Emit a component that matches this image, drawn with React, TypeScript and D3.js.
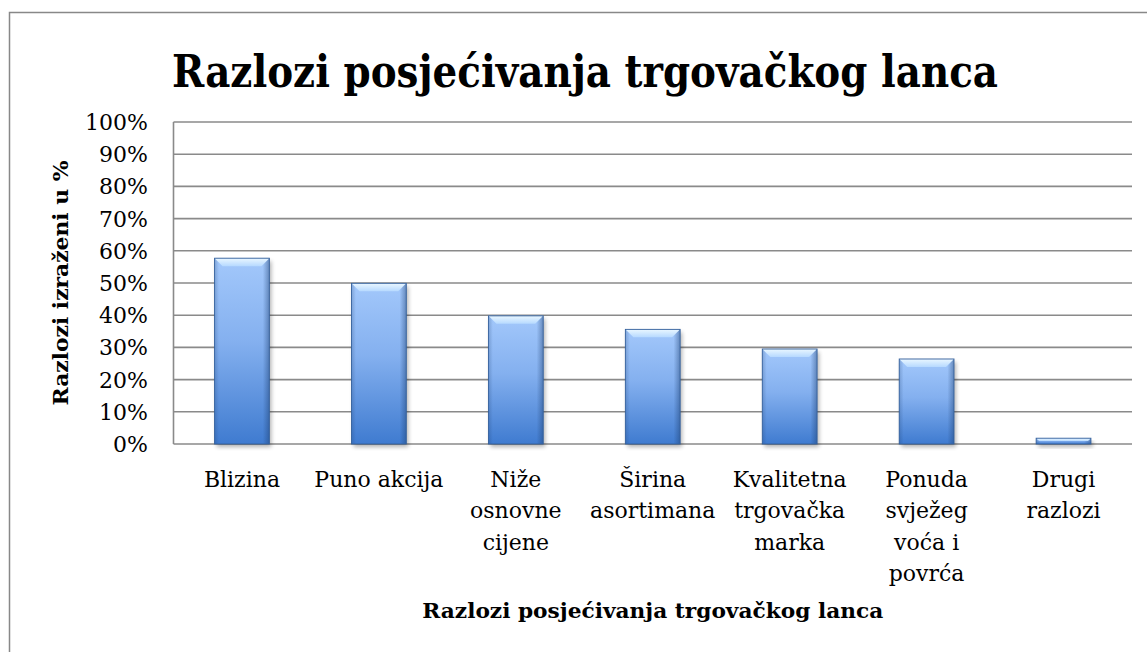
import React from 'react';
import * as d3 from 'd3';

// data
const categories = [
  ['Blizina'],
  ['Puno akcija'],
  ['Niže', 'osnovne', 'cijene'],
  ['Širina', 'asortimana'],
  ['Kvalitetna', 'trgovačka', 'marka'],
  ['Ponuda', 'svježeg', 'voća i', 'povrća'],
  ['Drugi', 'razlozi'],
];
const values = [57.7, 49.9, 39.8, 35.6, 29.5, 26.4, 1.8];
const yTicks = [0, 10, 20, 30, 40, 50, 60, 70, 80, 90, 100];

const title = 'Razlozi posjećivanja trgovačkog lanca';
const xTitle = 'Razlozi posjećivanja trgovačkog lanca';
const yTitle = 'Razlozi izraženi u %';

const W = 1147;
const H = 652;
const plot = { left: 173.5, right: 1132, top: 122, bottom: 444 };
const font = '"DejaVu Serif", "Liberation Serif", serif';
const grid = '#8a8a8a';

function App() {
  const x = d3.scaleBand<number>()
    .domain(d3.range(values.length))
    .range([plot.left, plot.right])
    .paddingInner(0.6)
    .paddingOuter(0.3);
  const y = d3.scaleLinear().domain([0, 100]).range([plot.bottom, plot.top]);
  const bw = x.bandwidth();

  return (
    <svg width={W} height={H} style={{ position: 'absolute', left: 0, top: 0, background: '#fff' }}>
      <defs>
        <linearGradient id="body" x1="0" y1="0" x2="0" y2="1">
          <stop offset="0%" stopColor="#a3c8fb" />
          <stop offset="45%" stopColor="#84b0ef" />
          <stop offset="100%" stopColor="#3f7bd0" />
        </linearGradient>
        <linearGradient id="edge" x1="0" y1="0" x2="1" y2="0">
          <stop offset="0%" stopColor="#1d3f70" stopOpacity={0.25} />
          <stop offset="8%" stopColor="#1d3f70" stopOpacity={0} />
          <stop offset="88%" stopColor="#1d3f70" stopOpacity={0} />
          <stop offset="100%" stopColor="#1d3f70" stopOpacity={0.45} />
        </linearGradient>
        <linearGradient id="bevel" x1="0" y1="0" x2="0" y2="1">
          <stop offset="0%" stopColor="#eaf7ff" />
          <stop offset="100%" stopColor="#b6d9ff" />
        </linearGradient>
        <filter id="shadow" x="-20%" y="-20%" width="140%" height="140%">
          <feGaussianBlur stdDeviation="2" />
        </filter>
      </defs>

      {/* chart frame (right and bottom lie outside the picture) */}
      <rect x={9.5} y={12.5} width={1200} height={700} fill="#fff" stroke="#888" strokeWidth={1.5} />

      <text x={585} y={87} textAnchor="middle" fontFamily={font} fontWeight="bold" fontSize={44}
        textLength={826} lengthAdjust="spacingAndGlyphs">{title}</text>

      {/* gridlines */}
      {yTicks.map(t => (
        <line key={t} x1={plot.left} x2={plot.right} y1={y(t)} y2={y(t)} stroke={grid} strokeWidth={1.6} />
      ))}
      <line x1={plot.left} x2={plot.left} y1={plot.top} y2={plot.bottom} stroke={grid} strokeWidth={1.6} />

      {/* tick labels */}
      {yTicks.map(t => (
        <text key={t} x={148} y={y(t) + 8} textAnchor="end" fontFamily={font} fontSize={22}>{t}%</text>
      ))}

      {/* bars */}
      {values.map((v, i) => {
        const x0 = x(i)!;
        const y0 = y(v);
        const h = plot.bottom - y0;
        const b = Math.min(8, h / 2);
        return (
          <g key={i}>
            <rect x={x0 + 2} y={y0 + 3} width={bw} height={h} fill="#000" opacity={0.3} filter="url(#shadow)" />
            <rect x={x0} y={y0} width={bw} height={h} fill="url(#body)" />
            <rect x={x0} y={y0} width={bw} height={h} fill="url(#edge)" />
            <polygon
              points={`${x0},${y0} ${x0 + bw},${y0} ${x0 + bw - b},${y0 + b} ${x0 + b},${y0 + b}`}
              fill="url(#bevel)" />
            <rect x={x0} y={y0} width={bw} height={h} fill="none" stroke="#34609c" strokeWidth={0.9} />
          </g>
        );
      })}

      {/* category labels */}
      {categories.map((lines, i) => (
        <text key={i} x={x(i)! + bw / 2} y={487} textAnchor="middle" fontFamily={font} fontSize={22}>
          {lines.map((l, k) => (
            <tspan key={k} x={x(i)! + bw / 2} y={487 + k * 31.3}>{l}</tspan>
          ))}
        </text>
      ))}

      <text x={(plot.left + plot.right) / 2} y={618} textAnchor="middle" fontFamily={font}
        fontWeight="bold" fontSize={20} textLength={461} lengthAdjust="spacingAndGlyphs">{xTitle}</text>
      <text transform={`translate(68, ${(plot.top + plot.bottom) / 2}) rotate(-90)`} textAnchor="middle"
        fontFamily={font} fontWeight="bold" fontSize={20} textLength={245} lengthAdjust="spacingAndGlyphs">{yTitle}</text>
    </svg>
  );
}

export default App;
